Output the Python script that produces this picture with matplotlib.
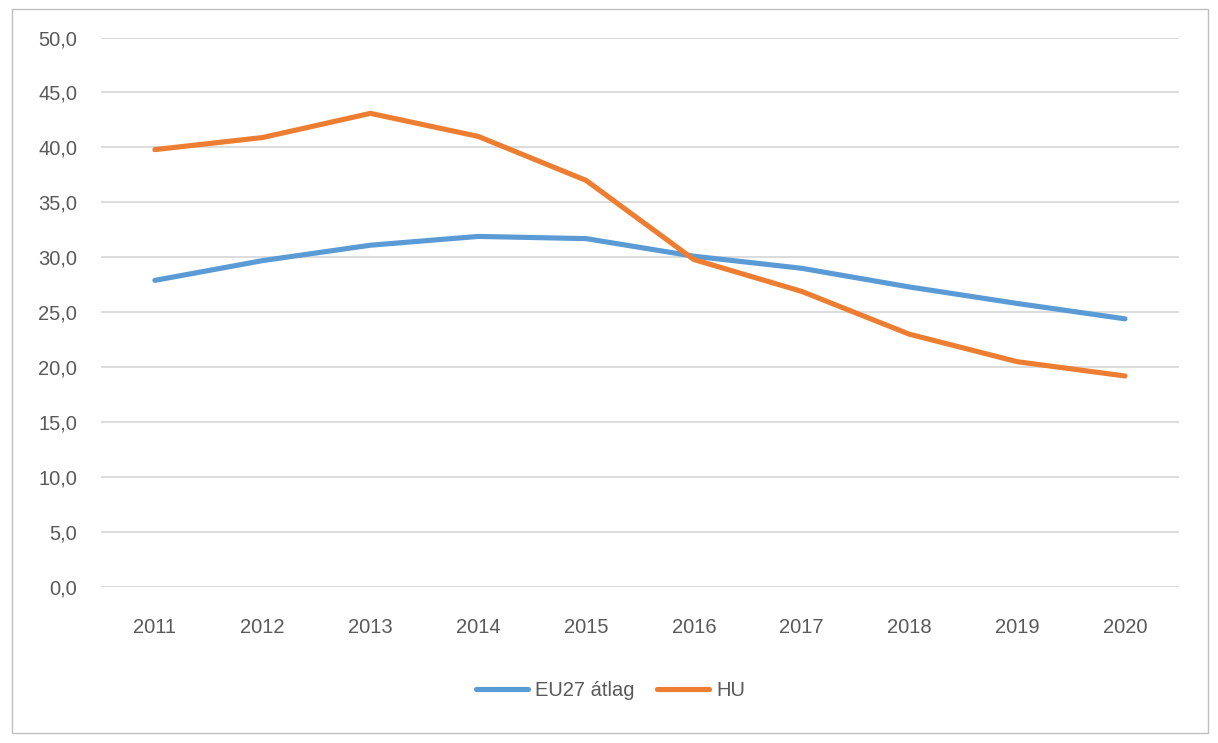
import matplotlib.pyplot as plt
from matplotlib.patches import Rectangle
from matplotlib.ticker import FuncFormatter

# ---- DATA ----
years = ["2011", "2012", "2013", "2014", "2015", "2016", "2017", "2018", "2019", "2020"]
eu27 = [27.9, 29.7, 31.1, 31.9, 31.7, 30.1, 29.0, 27.3, 25.8, 24.4]
hu = [39.8, 40.9, 43.1, 41.0, 37.0, 29.8, 26.9, 23.0, 20.5, 19.2]

BLUE = "#5B9BD5"
ORANGE = "#ED7D31"
TEXT = "#595959"
GRID = "#D9D9D9"

plt.rcParams['font.family'] = ['Liberation Sans', 'DejaVu Sans']

fig = plt.figure(figsize=(12.18, 7.43), dpi=100)
ax = fig.add_axes([0.0829, 0.21, 0.885, 0.7395])

x = range(len(years))
ax.plot(x, eu27, color=BLUE, lw=3.7, label="EU27 átlag",
        solid_capstyle='round', solid_joinstyle='round')
ax.plot(x, hu, color=ORANGE, lw=3.7, label="HU",
        solid_capstyle='round', solid_joinstyle='round')

ax.set_xlim(-0.5, len(years) - 0.5)
ax.set_ylim(0, 50)
ax.set_yticks(range(0, 51, 5))
ax.yaxis.set_major_formatter(FuncFormatter(lambda v, p: f"{v:.1f}".replace(".", ",")))
ax.set_xticks(list(x))
ax.set_xticklabels(years)

ax.grid(axis='y', color=GRID, lw=1.3)
ax.set_axisbelow(True)
for s in ax.spines.values():
    s.set_visible(False)
ax.tick_params(length=0, labelsize=14.5, labelcolor=TEXT)
ax.tick_params(axis='y', pad=17)
ax.tick_params(axis='x', pad=22)

fig.legend(loc='center', bbox_to_anchor=(0.501, 0.07), ncol=2, frameon=False,
           fontsize=14.5, labelcolor=TEXT, handlelength=2.6,
           handletextpad=0.35, columnspacing=1.1)

# chart border
fig.patches.append(Rectangle((12 / 1218, 1 - 733 / 743), 1196 / 1218, 724 / 743,
                             transform=fig.transFigure, fill=False,
                             edgecolor="#BFBFBF", lw=1.0))

fig.savefig("out.png", dpi=100, facecolor="white")
